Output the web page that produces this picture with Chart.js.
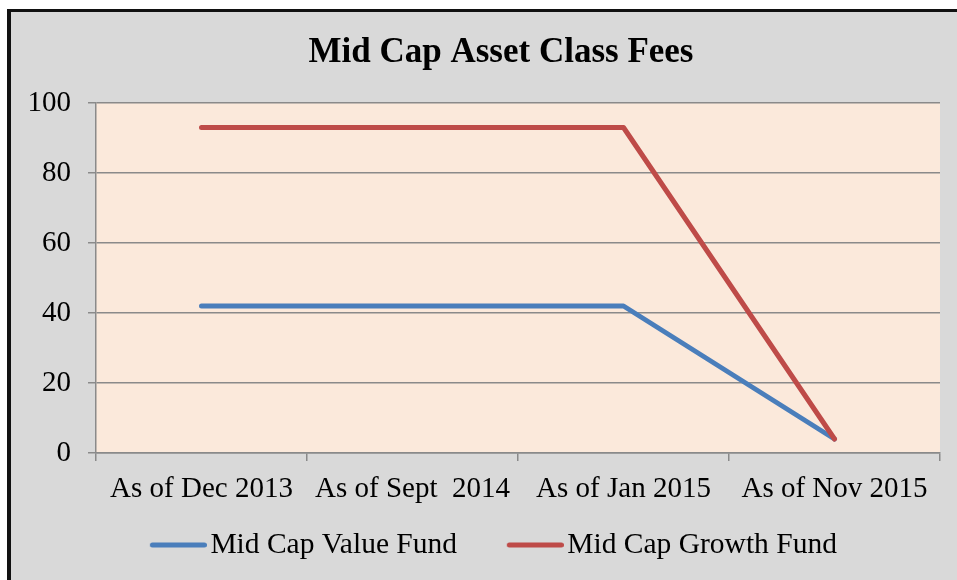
<!DOCTYPE html>
<html>
<head>
<meta charset="utf-8">
<script src="https://cdn.jsdelivr.net/npm/chart.js@4/dist/chart.umd.min.js"></script>
<style>
  body { margin: 0; background: #fff; overflow: hidden; }
  #frame {
    position: absolute; left: 7px; top: 9px;
    width: 1000px; height: 620px;
    background: #d9d9d9;
    border-left: 4px solid #111;
    border-top: 3px solid #111;
  }
  #chart { display: block; }
</style>
</head>
<body>
<div id="frame"><canvas id="chart" width="980" height="568"></canvas></div>
<script>
// Data
const categories = ['As of Dec 2013', 'As of Sept  2014', 'As of Jan 2015', 'As of Nov 2015'];
const valueFund = [42, 42, 42, 4];
const growthFund = [93, 93, 93, 4];
const seriesNames = ['Mid Cap Value Fund', 'Mid Cap Growth Fund'];
const seriesColors = ['#4a7ebb', '#be4b48'];

const serif = '"Liberation Serif", "Times New Roman", serif';
const gridGray = '#8a8a8a';

// Excel-style legend marker: a thick line hugging the label text.
// The image is wider than the legend box so the line can sit close to the text.
const markerBox = 68.5;
function legendLine(color) {
    const c = document.createElement('canvas');
    c.width = markerBox + 23;
    c.height = 8;
    const g = c.getContext('2d');
    g.strokeStyle = color;
    g.lineWidth = 5;
    g.lineCap = 'round';
    g.beginPath();
    g.moveTo(c.width - 57 + 2.5, 4);
    g.lineTo(c.width - 2.5, 4);
    g.stroke();
    return c;
}

// Peach plot area like the Excel original
const plotBackground = {
    id: 'plotBackground',
    beforeDraw: (chart) => {
        const {ctx, chartArea} = chart;
        ctx.save();
        ctx.fillStyle = '#fbe9db';
        ctx.fillRect(chartArea.left, chartArea.top, chartArea.width, chartArea.height);
        ctx.restore();
    }
};

// nudge the legend row left a bit, Excel centres it slightly differently
const legendNudge = {
    id: 'legendNudge',
    afterLayout: (chart) => {
        chart.legend.left -= 19;
        chart.legend.right -= 19;
    }
};

const ctx = document.getElementById('chart').getContext('2d');
const chart = new Chart(ctx, {
    type: 'line',
    data: {
        labels: categories,
        datasets: [{
            label: seriesNames[0],
            data: valueFund,
            borderColor: seriesColors[0],
            backgroundColor: seriesColors[0],
            borderWidth: 5,
            pointRadius: 0,
            pointStyle: legendLine(seriesColors[0]),
            tension: 0,
            borderCapStyle: 'round',
            borderJoinStyle: 'round',
            order: 2
        }, {
            label: seriesNames[1],
            data: growthFund,
            borderColor: seriesColors[1],
            backgroundColor: seriesColors[1],
            borderWidth: 5,
            pointRadius: 0,
            pointStyle: legendLine(seriesColors[1]),
            tension: 0,
            borderCapStyle: 'round',
            borderJoinStyle: 'round',
            order: 1
        }]
    },
    options: {
        responsive: false,
        animation: false,
        layout: {
            padding: { top: 0, left: 0, right: 0, bottom: 10.25 }
        },
        plugins: {
            title: {
                display: true,
                text: 'Mid Cap Asset Class Fees',
                color: '#000',
                font: { family: serif, size: 35, weight: 'bold' },
                padding: { top: 20, bottom: 29 }
            },
            legend: {
                position: 'bottom',
                labels: {
                    color: '#000',
                    font: { family: serif, size: 29.5 },
                    usePointStyle: true,
                    pointStyleWidth: markerBox,
                    padding: 27,
                    sort: (a, b) => a.datasetIndex - b.datasetIndex
                }
            },
            tooltip: { enabled: false }
        },
        scales: {
            x: {
                offset: true,
                grid: {
                    offset: true,
                    drawOnChartArea: false,
                    color: gridGray,
                    lineWidth: 1.5,
                    tickLength: 8
                },
                border: { color: gridGray, width: 1.5 },
                ticks: {
                    color: '#000',
                    font: { family: serif, size: 29 },
                    maxRotation: 0,
                    autoSkip: false,
                    padding: 11
                },
                afterFit: (scale) => { scale.height = 50.25; }
            },
            y: {
                min: 0,
                max: 100,
                grid: {
                    color: gridGray,
                    lineWidth: 1.5,
                    tickLength: 8
                },
                border: { color: gridGray, width: 1.5 },
                ticks: {
                    stepSize: 20,
                    color: '#000',
                    font: { family: serif, size: 29 },
                    padding: 17
                },
                afterFit: (scale) => { scale.width = 85; }
            },
            // empty right axis only to keep the plot clear of the right edge
            yRight: {
                position: 'right',
                min: 0,
                max: 100,
                grid: { display: false },
                border: { display: false },
                ticks: { display: false },
                afterFit: (scale) => { scale.width = 51; }
            }
        }
    },
    plugins: [plotBackground, legendNudge]
});
</script>
</body>
</html>
